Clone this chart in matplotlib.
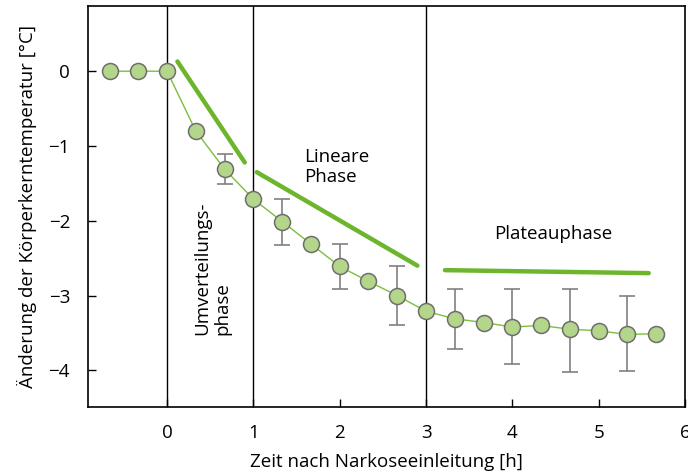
import matplotlib
matplotlib.use("Agg")
import matplotlib.pyplot as plt

plt.rcParams['font.family'] = ['Open Sans', 'DejaVu Sans']

# data
time_h = [-2/3, -1/3, 0, 1/3, 2/3, 1, 4/3, 5/3, 2, 7/3, 8/3, 3, 10/3, 11/3, 4, 13/3, 14/3, 5, 16/3, 17/3]
delta_t = [0, 0, 0, -0.80, -1.31, -1.71, -2.01, -2.31, -2.61, -2.81, -3.00, -3.21,
           -3.31, -3.36, -3.42, -3.40, -3.45, -3.47, -3.52, -3.51]
err_x = [2/3, 4/3, 2, 8/3, 10/3, 4, 14/3, 16/3]
err_y = [-1.31, -2.01, -2.61, -3.00, -3.31, -3.42, -3.45, -3.52]
err_lo = [0.20, 0.31, 0.30, 0.40, 0.40, 0.50, 0.57, 0.49]
err_hi = [0.20, 0.30, 0.30, 0.40, 0.40, 0.51, 0.54, 0.51]
phase_x = [0, 1, 3]
trend1_x = [0.12, 0.90]; trend1_y = [0.13, -1.22]
trend2_x = [1.04, 2.90]; trend2_y = [-1.35, -2.60]
trend3_x = [3.22, 5.58]; trend3_y = [-2.66, -2.70]
xticks = [0, 1, 2, 3, 4, 5, 6]
yticks = [0, -1, -2, -3, -4]
ytick_labels = ['0', '−1', '−2', '−3', '−4']

fs = 13.5
fig = plt.figure(figsize=(6.88, 4.73), dpi=100)
ax = fig.add_axes([0.128, 0.1395, 0.8676, 0.8475])
ax.set_xlim(-0.915, 6.0)
ax.set_ylim(-4.49, 0.87)

for xv in phase_x:
    ax.axvline(xv, color='black', lw=1.0, zorder=1)

green = '#6cb52d'
ax.plot(trend1_x, trend1_y, color=green, lw=3.2, solid_capstyle='round', zorder=2)
ax.plot(trend2_x, trend2_y, color=green, lw=3.2, solid_capstyle='round', zorder=2)
ax.plot(trend3_x, trend3_y, color=green, lw=3.2, solid_capstyle='round', zorder=2)

ax.errorbar(err_x, err_y, yerr=[err_lo, err_hi], fmt='none', ecolor='#808080',
            elinewidth=1.2, capsize=6, capthick=1.2, zorder=3)
ax.plot(time_h, delta_t, color='#7cbf3a', lw=1.0, marker='o', markersize=11.5,
        markerfacecolor='#b3d68a', markeredgecolor='#6e6e6e', markeredgewidth=1.1, zorder=4)

ax.text(1.59, -1.03, 'Lineare\nPhase', fontsize=fs, ha='left', va='top', linespacing=1.15)
ax.text(4.47, -2.18, 'Plateauphase', fontsize=fs, ha='center', va='center')
ax.text(0.53, -3.53, 'Umverteilungs-\nphase', fontsize=fs, ha='center', va='bottom',
        rotation=90, rotation_mode='default', multialignment='left', linespacing=1.15)

ax.set_xticks(xticks)
ax.set_yticks(yticks)
ax.set_yticklabels(ytick_labels)
ax.tick_params(direction='in', length=6, width=1.0, labelsize=fs)
ax.tick_params(axis='x', pad=12)
ax.tick_params(axis='y', pad=13)
for s in ax.spines.values():
    s.set_linewidth(1.2)
ax.set_xlabel('Zeit nach Narkoseeinleitung [h]', fontsize=fs, labelpad=8)
ax.set_ylabel('Änderung der Körperkerntemperatur [°C]', fontsize=fs, labelpad=8)

fig.savefig('out.png', dpi=100)
